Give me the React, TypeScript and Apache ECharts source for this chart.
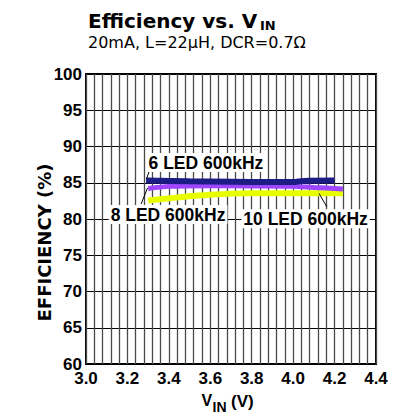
import React, { useEffect, useRef } from "react";
import * as echarts from "echarts";

// Data (VIN in volts, efficiency in %)
const led6: [number, number][] = [
  [3.29, 85.3], [3.5, 85.2], [3.7, 85.15], [3.9, 85.1], [4.0, 85.1], [4.05, 85.25], [4.2, 85.3],
];
const led8: [number, number][] = [
  [3.3, 84.2], [3.4, 84.5], [3.6, 84.6], [3.8, 84.55], [4.0, 84.5], [4.1, 84.35], [4.24, 84.15],
];
const led10: [number, number][] = [
  [3.3, 82.55], [3.4, 82.85], [3.5, 83.15], [3.6, 83.35], [3.7, 83.5], [3.8, 83.55], [4.0, 83.55], [4.24, 83.55],
];
const seriesNames = ["10 LED 600kHz", "8 LED 600kHz", "6 LED 600kHz"];
const seriesColors = ["#e8ff00", "#9d45ff", "#1c1c84"];

// Annotation labels: text, label center (data coords), leader from/to (data coords)
const labelTexts = ["6 LED 600kHz", "8 LED 600kHz", "10 LED 600kHz"];
const labelCenters: [number, number][] = [[3.579, 87.79], [3.396, 80.62], [4.06, 80.03]];
const leaderFrom: [number, number][] = [[3.309, 86.9], [3.297, 84.28], [4.125, 83.52]];
const leaderTo: [number, number][] = [[3.292, 85.52], [3.266, 82.07], [4.163, 81.66]];

const FONT = "'Liberation Sans', Arial, sans-serif";
const WIDE = "'DejaVu Sans', sans-serif";

export default function App() {
  const ref = useRef<HTMLDivElement>(null);
  useEffect(() => {
    if (!ref.current) return;
    const chart = echarts.init(ref.current, null, { renderer: "svg" });
    const data = [led10, led8, led6];
    const widths = [6, 5, 6];
    chart.setOption({
      animation: false,
      grid: {
        left: 86, top: 74, width: 290, height: 290,
        show: true, borderColor: "#000", borderWidth: 2, backgroundColor: "transparent",
      },
      xAxis: {
        type: "value", min: 3.0, max: 4.4, interval: 0.2,
        axisLine: { show: false }, axisTick: { show: false },
        axisLabel: {
          color: "#000", fontFamily: FONT, fontWeight: "bold", fontSize: 17, margin: 6,
          formatter: (v: number) => v.toFixed(1),
        },
        splitLine: { show: true, lineStyle: { color: "#4a4a4a", width: 1.3 } },
        minorTick: { show: false, splitNumber: 5 },
        minorSplitLine: { show: true, lineStyle: { color: "#4a4a4a", width: 1.3 } },
      },
      yAxis: {
        type: "value", min: 60, max: 100, interval: 5,
        axisLine: { show: false }, axisTick: { show: false },
        axisLabel: { color: "#000", fontFamily: FONT, fontWeight: "bold", fontSize: 17, margin: 4 },
        splitLine: { show: true, lineStyle: { color: "#000", width: 1.2 } },
      },
      series: data.map((d, i) => ({
        name: seriesNames[i],
        type: "line",
        data: d,
        smooth: 0.3,
        showSymbol: false,
        silent: true,
        z: 3 + i,
        lineStyle: { color: seriesColors[i], width: widths[i], cap: "butt" },
      })),
    });

    const px = (p: [number, number]) => chart.convertToPixel({ gridIndex: 0 }, p) as number[];
    const graphics: any[] = [
      {
        type: "text", x: 88, y: 21, z: 10,
        style: { text: "Efficiency vs. V", fontFamily: WIDE, fontWeight: "bold", fontSize: 20, lineHeight: 15, fill: "#000", align: "left", verticalAlign: "middle" },
      },
      {
        type: "text", x: 260, y: 25, z: 10,
        style: { text: "IN", fontFamily: WIDE, fontWeight: "bold", fontSize: 13, lineHeight: 10, fill: "#000", align: "left", verticalAlign: "middle" },
      },
      {
        type: "text", x: 88, y: 42, z: 10,
        style: { text: "20mA, L=22µH, DCR=0.7Ω", fontFamily: WIDE, fontSize: 16, lineHeight: 13, fill: "#000", align: "left", verticalAlign: "middle" },
      },
      {
        type: "text", x: 201.5, y: 400.5, z: 10,
        style: { text: "V", fontFamily: FONT, fontWeight: "bold", fontSize: 16, lineHeight: 12, fill: "#000", align: "left", verticalAlign: "middle" },
      },
      {
        type: "text", x: 212.5, y: 407, z: 10,
        style: { text: "IN", fontFamily: FONT, fontWeight: "bold", fontSize: 14, lineHeight: 11, fill: "#000", align: "left", verticalAlign: "middle" },
      },
      {
        type: "text", x: 231, y: 401, z: 10,
        style: { text: "(V)", fontFamily: FONT, fontWeight: "bold", fontSize: 17, lineHeight: 14, fill: "#000", align: "left", verticalAlign: "middle" },
      },
      {
        type: "text", x: 44, y: 242.5, rotation: Math.PI / 2, z: 10,
        style: { text: "EFFICIENCY (%)", fontFamily: WIDE, fontWeight: "bold", fontSize: 18, fill: "#000", align: "center", verticalAlign: "middle" },
      },
    ];
    labelTexts.forEach((t, i) => {
      const c = px(labelCenters[i]);
      const a = px(leaderFrom[i]);
      const b = px(leaderTo[i]);
      graphics.push({
        type: "line", z: 20,
        shape: { x1: a[0], y1: a[1], x2: b[0], y2: b[1] },
        style: { stroke: "#000", lineWidth: 1 },
      });
      graphics.push({
        type: "text", x: c[0], y: c[1], z: 21,
        style: {
          text: t, fontFamily: FONT, fontWeight: "bold", fontSize: 17.5, fill: "#000",
          align: "center", verticalAlign: "middle", backgroundColor: "#fff", padding: [1, 2, 0, 2],
        },
      });
    });
    chart.setOption({ graphic: graphics });
    return () => chart.dispose();
  }, []);
  return (
    <div
      ref={ref}
      style={{ position: "fixed", left: 0, top: 0, width: 393, height: 419, background: "#fff" }}
    />
  );
}
